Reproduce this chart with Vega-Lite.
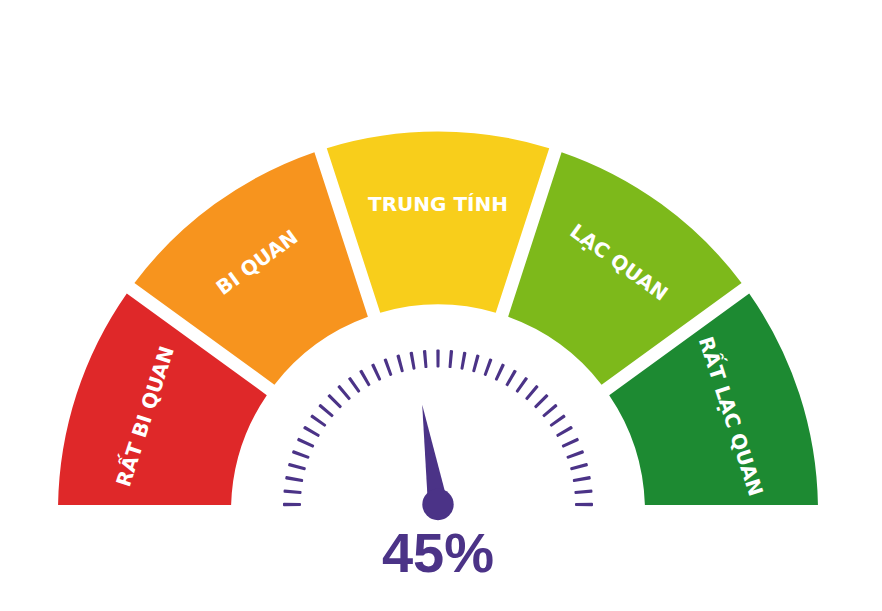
{
  "$schema": "https://vega.github.io/schema/vega-lite/v6.json",
  "width": 882,
  "height": 611,
  "autosize": "none",
  "padding": 0,
  "background": "white",
  "config": {"view": {"stroke": null}},
  "encoding": {
    "x": {"datum": 0, "type": "quantitative", "scale": {"domain": [-438, 444]}, "axis": null},
    "y": {"datum": 0, "type": "quantitative", "scale": {"domain": [-106.5, 504.5]}, "axis": null}
  },
  "layer": [
    {
      "data": {"values": [
        {"label": "RẤT BI QUAN", "start": 0, "end": 20, "mid": 10},
        {"label": "BI QUAN", "start": 20, "end": 40, "mid": 30},
        {"label": "TRUNG TÍNH", "start": 40, "end": 60, "mid": 50},
        {"label": "LẠC QUAN", "start": 60, "end": 80, "mid": 70},
        {"label": "RẤT LẠC QUAN", "start": 80, "end": 100, "mid": 90}
      ]},
      "mark": {"type": "arc", "radius": 380, "radius2": 207, "padAngle": 0.03, "yOffset": 7},
      "encoding": {
        "theta": {"field": "start", "type": "quantitative", "stack": null, "scale": {"domain": [0, 100], "range": [-1.5707963, 1.5707963]}},
        "theta2": {"field": "end"},
        "color": {"field": "label", "type": "nominal", "legend": null,
          "scale": {"domain": ["RẤT BI QUAN", "BI QUAN", "TRUNG TÍNH", "LẠC QUAN", "RẤT LẠC QUAN"],
                    "range": ["#DF2829", "#F7941E", "#F8CE1B", "#7DB91B", "#1D8A32"]}}
      }
    },
    {
      "data": {"values": [
        {"label": "RẤT BI QUAN", "mid": 10},
        {"label": "BI QUAN", "mid": 30},
        {"label": "TRUNG TÍNH", "mid": 50},
        {"label": "LẠC QUAN", "mid": 70},
        {"label": "RẤT LẠC QUAN", "mid": 90}
      ]},
      "mark": {"type": "text", "radius": 307, "font": "DejaVu Sans", "fontWeight": "bold", "fontSize": 20, "color": "white", "align": "center", "baseline": "middle", "yOffset": 7},
      "encoding": {
        "theta": {"field": "mid", "type": "quantitative", "stack": null, "scale": {"domain": [0, 100], "range": [-1.5707963, 1.5707963]}},
        "angle": {"field": "mid", "type": "quantitative", "scale": {"domain": [0, 100], "range": [-90, 90]}},
        "text": {"field": "label"}
      }
    },
    {
      "data": {"values": [
        {"deg": 0}, {"deg": 5}, {"deg": 10}, {"deg": 15}, {"deg": 20}, {"deg": 25}, {"deg": 30}, {"deg": 35}, {"deg": 40}, {"deg": 45},
        {"deg": 50}, {"deg": 55}, {"deg": 60}, {"deg": 65}, {"deg": 70}, {"deg": 75}, {"deg": 80}, {"deg": 85}, {"deg": 90}, {"deg": 95},
        {"deg": 100}, {"deg": 105}, {"deg": 110}, {"deg": 115}, {"deg": 120}, {"deg": 125}, {"deg": 130}, {"deg": 135}, {"deg": 140}, {"deg": 145},
        {"deg": 150}, {"deg": 155}, {"deg": 160}, {"deg": 165}, {"deg": 170}, {"deg": 175}, {"deg": 180}
      ]},
      "mark": {"type": "arc", "radius": 155, "radius2": 137, "thetaOffset": -0.0108, "theta2Offset": 0.0108, "cornerRadius": 1, "color": "#4B3387"},
      "encoding": {
        "theta": {"field": "deg", "type": "quantitative", "stack": null, "scale": {"domain": [0, 180], "range": [-1.5707963, 1.5707963]}},
        "theta2": {"field": "deg"}
      }
    },
    {
      "data": {"values": [{"value": 45, "display": "45%"}]},
      "layer": [
        {
          "mark": {"type": "point", "shape": "M-0.1,0L0.1,0L0,-1Z", "size": 40804, "filled": true, "color": "#4B3387", "opacity": 1, "strokeWidth": 0},
          "encoding": {
            "angle": {"field": "value", "type": "quantitative", "scale": {"domain": [0, 100], "range": [-90, 90]}}
          }
        },
        {
          "mark": {"type": "point", "shape": "circle", "size": 986, "filled": true, "color": "#4B3387", "opacity": 1, "strokeWidth": 0}
        },
        {
          "mark": {"type": "text", "font": "Liberation Sans", "fontWeight": "bold", "fontSize": 56, "color": "#4B3387", "align": "center", "baseline": "alphabetic", "dy": 67},
          "encoding": {"text": {"field": "display"}}
        }
      ]
    }
  ],
  "resolve": {"scale": {"theta": "independent"}}
}
